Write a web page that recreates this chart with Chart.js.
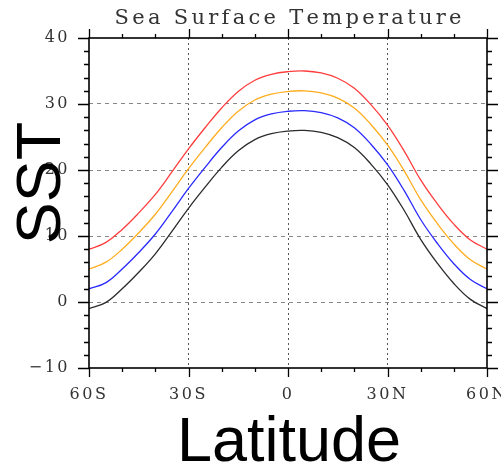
<!DOCTYPE html>
<html lang="en">
<head>
<meta charset="UTF-8">
<title>Sea Surface Temperature</title>
<script src="https://cdn.jsdelivr.net/npm/chart.js@4.4.0/dist/chart.umd.min.js"></script>
<style>
  html, body { margin: 0; padding: 0; background: #fff; }
  #wrap { width: 501px; height: 462px; }
</style>
</head>
<body>
<div id="wrap"><canvas id="sst" width="501" height="462"></canvas></div>
<script>
// latitude (deg, negative = south) and SST
const latitudes = [-60, -55, -50, -45, -40, -35, -30, -25, -20, -15, -10, -5, 0,
                   5, 10, 15, 20, 25, 30, 35, 40, 45, 50, 55, 60];
const sstBlack  = [-1.0, -0.1, 2.0, 4.5, 7.3, 10.7, 14.2, 17.4, 20.4, 22.9, 24.6, 25.5, 25.9,
                   26.0, 25.7, 24.9, 23.4, 20.9, 17.8, 13.9, 9.5, 5.9, 2.8, 0.4, -1.0];
const sstBlue   = [2.0, 2.9, 5.0, 7.5, 10.3, 13.7, 17.2, 20.4, 23.4, 25.9, 27.6, 28.5, 28.9,
                   29.0, 28.7, 27.9, 26.4, 23.9, 20.8, 16.9, 12.5, 8.9, 5.8, 3.4, 2.0];
const sstOrange = [5.0, 6.0, 8.0, 10.5, 13.3, 16.7, 20.2, 23.4, 26.4, 28.9, 30.6, 31.5, 31.9,
                   32.0, 31.7, 30.9, 29.4, 26.9, 23.8, 19.9, 15.5, 11.9, 8.8, 6.4, 5.0];
const sstRed    = [8.0, 9.0, 11.0, 13.5, 16.3, 19.7, 23.2, 26.4, 29.4, 31.9, 33.6, 34.5, 34.9,
                   35.0, 34.7, 33.9, 32.4, 29.9, 26.8, 22.9, 18.5, 14.9, 11.8, 9.4, 8.0];

const latTicks = [-60, -30, 0, 30, 60];
const sstTicks = [-10, 0, 10, 20, 30, 40];

function latLabel(v) {
    if (v < 0) return (-v) + 'S';
    if (v > 0) return v + 'N';
    return '0';
}
function sstLabel(v) {
    return v < 0 ? '\u2212' + Math.abs(v) : String(v);
}
function series(values) {
    return latitudes.map((lat, i) => ({ x: lat, y: values[i] }));
}

// draws text with even gaps so it fills a given width (NCL-like wide lettering)
function drawSpaced(ctx, text, cx, y, width) {
    const chars = text.split('');
    const widths = chars.map(c => ctx.measureText(c).width);
    const total = widths.reduce((a, b) => a + b, 0);
    const gap = (width - total) / (chars.length - 1);
    let x = cx - width / 2;
    ctx.textAlign = 'left';
    chars.forEach((c, i) => {
        ctx.fillText(c, x, y);
        x += widths[i] + gap;
    });
}

const ncLook = {
    id: 'ncLook',
    beforeDraw(chart) {
        chart.ctx.letterSpacing = '2.5px';
    },
    afterDraw(chart) {
        const ctx = chart.ctx;
        const { left, right, top, bottom } = chart.chartArea;
        const xs = chart.scales.x;
        const ys = chart.scales.y;
        ctx.save();
        ctx.letterSpacing = '0px';

        // tick marks on all four sides
        ctx.strokeStyle = '#000';
        ctx.lineWidth = 1.3;
        ctx.setLineDash([]);
        ctx.beginPath();
        for (let v = xs.min; v <= xs.max; v += 10) {
            const px = Math.round(xs.getPixelForValue(v)) + 0.5;
            const len = v % 30 === 0 ? 9 : 4;
            ctx.moveTo(px, bottom); ctx.lineTo(px, bottom + len);
            ctx.moveTo(px, top); ctx.lineTo(px, top - len);
        }
        for (let v = ys.min; v <= ys.max; v += 2) {
            const py = Math.round(ys.getPixelForValue(v)) + 0.5;
            const len = v % 10 === 0 ? 11 : 5;
            ctx.moveTo(left, py); ctx.lineTo(left - len, py);
            ctx.moveTo(right, py); ctx.lineTo(right + len, py);
        }
        ctx.stroke();

        // frame
        ctx.lineWidth = 1.6;
        ctx.strokeRect(left, top, right - left, bottom - top);

        // title
        ctx.fillStyle = '#333';
        ctx.font = '21px "DejaVu Serif"';
        ctx.textBaseline = 'alphabetic';
        drawSpaced(ctx, 'Sea Surface Temperature', (left + right) / 2, 24, 347);

        // axis titles
        ctx.fillStyle = '#000';
        ctx.font = '63px "Liberation Sans", Arial, sans-serif';
        ctx.textAlign = 'center';
        ctx.fillText('Latitude', (left + right) / 2 + 1, 461);
        ctx.translate(60, 183);
        ctx.rotate(-Math.PI / 2);
        ctx.fillText('SST', 0, 0);
        ctx.restore();
    }
};

const tickFont = { family: '"DejaVu Serif"', size: 16 };

new Chart(document.getElementById('sst'), {
    type: 'line',
    data: {
        datasets: [
            { data: series(sstBlack),  borderColor: '#2b2b2b' },
            { data: series(sstBlue),   borderColor: '#2a2aff' },
            { data: series(sstOrange), borderColor: '#ffad1f' },
            { data: series(sstRed),    borderColor: '#ff3d3d' }
        ]
    },
    options: {
        responsive: false,
        animation: false,
        devicePixelRatio: 1,
        layout: { padding: { top: 38, right: 14, left: 0, bottom: 0 } },
        elements: {
            point: { radius: 0 },
            line: { borderWidth: 1.3, tension: 0.4, fill: false }
        },
        plugins: {
            legend: { display: false },
            title: { display: false },
            tooltip: { enabled: false }
        },
        scales: {
            x: {
                type: 'linear',
                min: -60,
                max: 60,
                afterBuildTicks: s => { s.ticks = latTicks.map(v => ({ value: v })); },
                afterFit: s => { s.height = 94; s.paddingLeft = 0; s.paddingRight = 0; },
                ticks: {
                    autoSkip: false,
                    maxRotation: 0,
                    padding: 17,
                    color: '#333',
                    font: tickFont,
                    callback: v => latLabel(v)
                },
                grid: {
                    drawTicks: false,
                    lineWidth: 1,
                    color: c => (c.tick && Math.abs(c.tick.value) === 60) ? 'rgba(0,0,0,0)' : '#555'
                },
                border: { display: false, dash: [2, 3] }
            },
            y: {
                type: 'linear',
                min: -10,
                max: 40,
                afterBuildTicks: s => { s.ticks = sstTicks.map(v => ({ value: v })); },
                afterFit: s => { s.width = 89; },
                ticks: {
                    padding: 19,
                    color: '#333',
                    font: tickFont,
                    callback: v => sstLabel(v)
                },
                grid: {
                    drawTicks: false,
                    lineWidth: 1,
                    color: c => (c.tick && (c.tick.value === -10 || c.tick.value === 40)) ? 'rgba(0,0,0,0)' : '#888'
                },
                border: { display: false, dash: [4, 4] }
            }
        }
    },
    plugins: [ncLook]
});
</script>
</body>
</html>
